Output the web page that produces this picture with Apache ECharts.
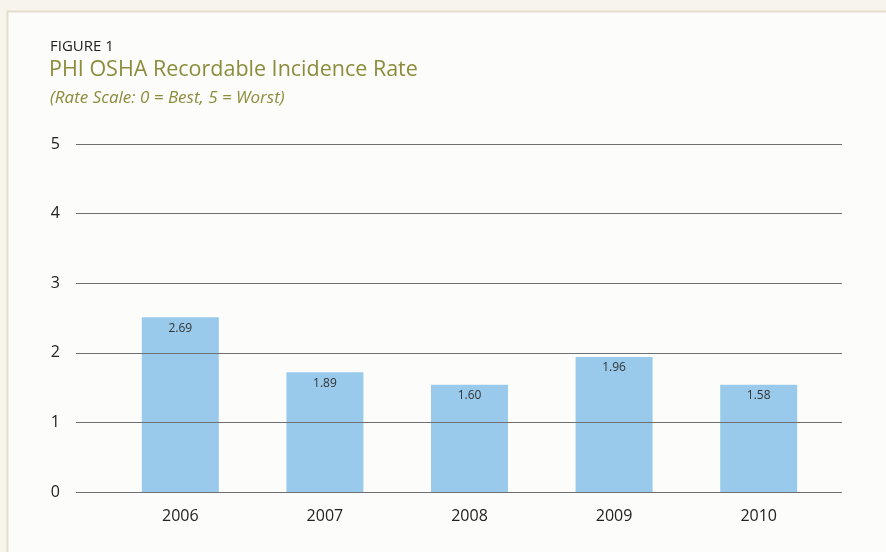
<!DOCTYPE html>
<html lang="en">
<head>
<meta charset="UTF-8">
<title>PHI OSHA Recordable Incidence Rate</title>
<script src="https://cdn.jsdelivr.net/npm/echarts@6.0.0/dist/echarts.min.js"></script>
<style>
  html, body { margin: 0; padding: 0; background: #f7f4ec; }
  #chart { width: 886px; height: 552px; }
</style>
</head>
<body>
<div id="chart"></div>
<script>
// data
const years = ['2006', '2007', '2008', '2009', '2010'];
const barHeights = [2.51, 1.72, 1.54, 1.94, 1.54];   // drawn bar heights
const barLabels = ['2.69', '1.89', '1.60', '1.96', '1.58']; // printed values
const yTicks = [0, 1, 2, 3, 4, 5];

const olive = '#8c8c3c';
const font = '"Open Sans", "Noto Sans", sans-serif';

const chart = echarts.init(document.getElementById('chart'));

chart.setOption({
  backgroundColor: '#f7f4ec',
  animation: false,
  graphic: [{
    type: 'rect',
    shape: { x: 7.5, y: 11.5, width: 900, height: 560 },
    style: { fill: '#fcfcfa', stroke: '#e2ddcc', lineWidth: 2 },
    z: -10
  }],
  title: [
    { text: 'FIGURE 1', left: 45, top: 34,
      textStyle: { fontFamily: font, fontSize: 15, fontWeight: 'normal', color: '#222' } },
    { text: 'PHI OSHA Recordable Incidence Rate', left: 44, top: 54,
      textStyle: { fontFamily: font, fontSize: 21.5, fontWeight: 'normal', color: olive } },
    { text: '(Rate Scale: 0 = Best, 5 = Worst)', left: 45, top: 85,
      textStyle: { fontFamily: font, fontSize: 17, fontStyle: 'italic', fontWeight: 'normal', color: olive } }
  ],
  grid: [
    { left: 76, right: 44, top: 144, bottom: 60 },
    { left: 108, right: 55, top: 144, bottom: 60 }
  ],
  xAxis: [
    { gridIndex: 0, type: 'value', show: false, min: 0, max: 1 },
    { gridIndex: 1, type: 'category', data: years,
      axisLine: { show: false }, axisTick: { show: false },
      axisLabel: { fontFamily: font, fontSize: 16, color: '#222', margin: 16 } }
  ],
  yAxis: [
    { gridIndex: 0, type: 'value', min: 0, max: 5, interval: 1, z: 5,
      axisLine: { show: false }, axisTick: { show: false },
      axisLabel: { fontFamily: font, fontSize: 16, color: '#222', margin: 16,
        formatter: v => yTicks.includes(v) ? String(v) : '' },
      splitLine: { show: true, lineStyle: { color: '#707070', width: 1.2 } } },
    { gridIndex: 1, type: 'value', min: 0, max: 5, interval: 1, show: false,
      splitLine: { show: false } }
  ],
  series: [{
    type: 'bar',
    xAxisIndex: 1,
    yAxisIndex: 1,
    data: barHeights,
    barWidth: 77,
    itemStyle: { color: '#99caeb' },
    label: {
      show: true,
      position: 'insideTop',
      distance: 5,
      fontFamily: font,
      fontSize: 12,
      color: '#333',
      formatter: p => barLabels[p.dataIndex]
    }
  }]
});

window.addEventListener('resize', () => chart.resize());
</script>
</body>
</html>
